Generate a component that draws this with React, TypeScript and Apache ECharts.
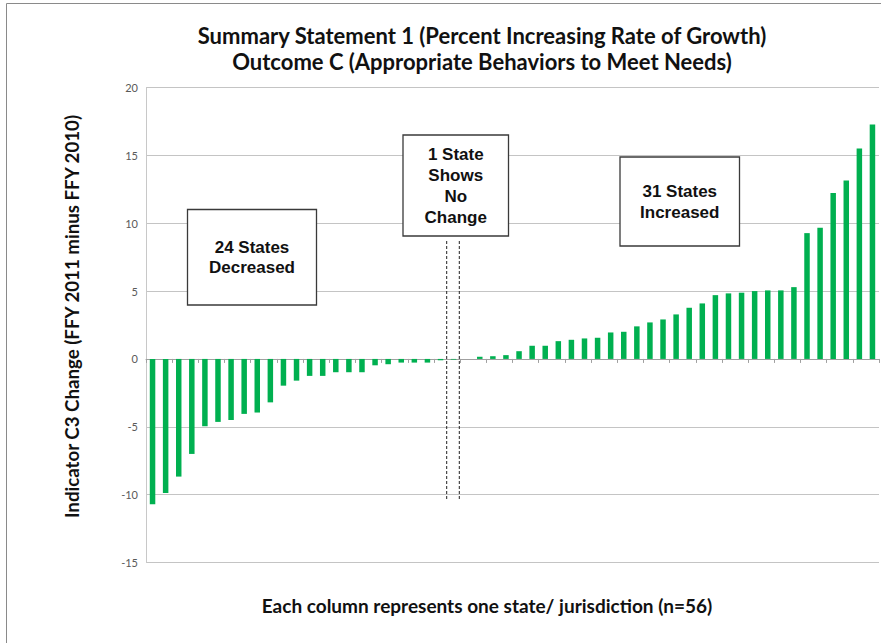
import React, { useEffect, useRef } from "react";
import * as echarts from "echarts";

const decreased = [-10.7, -9.87, -8.67, -7.0, -4.96, -4.64, -4.5, -4.05, -3.95, -3.2, -1.97, -1.6, -1.25, -1.25, -0.98, -0.98, -0.98, -0.47, -0.39, -0.27, -0.27, -0.27, -0.1, -0.05];
const unchanged = [0];
const increased = [0.16, 0.2, 0.28, 0.57, 0.97, 0.97, 1.31, 1.41, 1.51, 1.56, 1.95, 2.0, 2.4, 2.69, 2.91, 3.28, 3.77, 4.09, 4.7, 4.83, 4.88, 5.0, 5.05, 5.05, 5.29, 9.27, 9.66, 12.23, 13.15, 15.5, 17.28];
const values = [...decreased, ...unchanged, ...increased];
const categories = values.map((_, i) => String(i + 1));

const titleText = "Summary Statement 1 (Percent Increasing Rate of Growth)\nOutcome C (Appropriate Behaviors to Meet Needs)";
const yAxisTitle = "Indicator C3 Change (FFY 2011 minus FFY 2010)";
const xAxisTitle = "Each column represents one state/ jurisdiction (n=56)";
const boxDecreased = "24 States\nDecreased";
const boxNoChange = "1 State\nShows\nNo\nChange";
const boxIncreased = "31 States\nIncreased";

const BOX_FONT = "bold 17px 'Liberation Sans', Arial, sans-serif";

function box(x: number, y: number, w: number, h: number, text: string, lh: number) {
  return {
    type: "group",
    children: [
      { type: "rect", shape: { x, y, width: w, height: h }, style: { fill: "#fff", stroke: "#3a3a3a", lineWidth: 1.3 }, z: 10 },
      {
        type: "text",
        x: x + w / 2,
        y: y + h / 2,
        z: 11,
        style: { text, font: BOX_FONT, fill: "#111", align: "center", verticalAlign: "middle", lineHeight: lh },
      },
    ],
  };
}

export default function App() {
  const ref = useRef<HTMLDivElement>(null);
  useEffect(() => {
    const chart = echarts.init(ref.current!, null, { renderer: "svg" });
    chart.setOption({
      animation: false,
      backgroundColor: "#fff",
      title: {
        text: titleText,
        left: 477,
        textAlign: "center",
        top: 17,
        textStyle: { fontFamily: "Lato", fontWeight: "bold", fontSize: 22, lineHeight: 26, color: "#111" },
      },
      grid: { left: 146, right: 2, top: 87.5, bottom: 80.5, containLabel: false },
      xAxis: {
        type: "category",
        data: categories,
        boundaryGap: true,
        axisLine: { onZero: true, lineStyle: { color: "#a0a0a0", width: 1 } },
        axisTick: { show: true, alignWithLabel: false, length: 4, lineStyle: { color: "#a0a0a0" } },
        axisLabel: { show: false },
        splitLine: { show: false },
      },
      yAxis: {
        type: "value",
        min: -15,
        max: 20,
        interval: 5,
        axisLine: { show: true, lineStyle: { color: "#c8c8c8" } },
        axisTick: { show: false },
        axisLabel: { fontFamily: "Lato", fontSize: 11, color: "#595959", margin: 8 },
        splitLine: { lineStyle: { color: "#c4c4c4", width: 1 } },
      },
      series: [
        {
          type: "bar",
          data: values,
          barWidth: "42%",
          itemStyle: { color: "#00B050" },
        },
      ],
      graphic: [
        { type: "rect", shape: { x: 6.5, y: 3.5, width: 900, height: 700 }, style: { fill: "none", stroke: "#8a8a8a", lineWidth: 1 }, silent: true },
        {
          type: "text",
          x: 487,
          y: 605,
          style: { text: xAxisTitle, font: "bold 19px Lato", fill: "#111", align: "center", verticalAlign: "middle" },
        },
        {
          type: "text",
          x: 72,
          y: 316.5,
          rotation: Math.PI / 2,
          style: { text: yAxisTitle, font: "bold 18.7px Lato", fill: "#111", align: "center", verticalAlign: "middle" },
        },
        box(187.5, 209.5, 129, 95.5, boxDecreased, 20.5),
        box(403, 135, 105.5, 101, boxNoChange, 21),
        box(620, 157, 119.5, 89, boxIncreased, 21),
        { type: "line", shape: { x1: 446.7, y1: 241, x2: 446.7, y2: 500 }, style: { stroke: "#222", lineWidth: 1, lineDash: [3, 2] }, z: 9 },
        { type: "line", shape: { x1: 459.3, y1: 241, x2: 459.3, y2: 500 }, style: { stroke: "#222", lineWidth: 1, lineDash: [3, 2] }, z: 9 },
      ],
    });
    return () => chart.dispose();
  }, []);
  return <div ref={ref} style={{ position: "absolute", left: 0, top: 0, width: 881, height: 643 }} />;
}
